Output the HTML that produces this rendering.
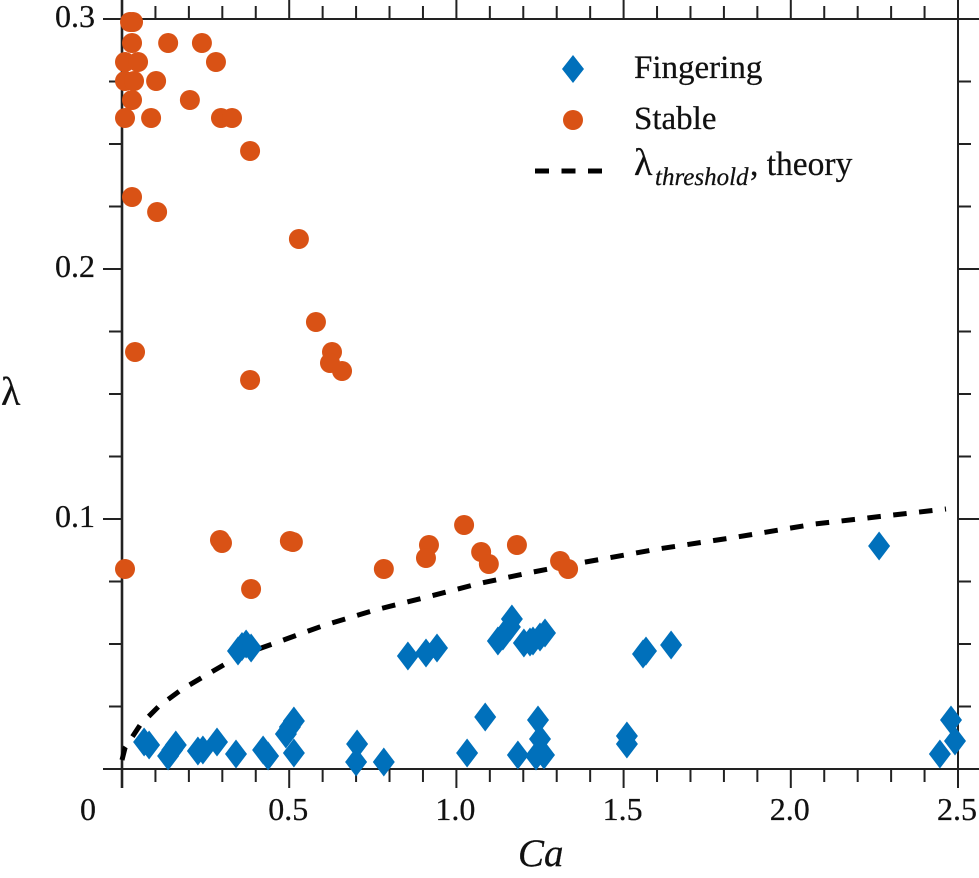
<!DOCTYPE html>
<html lang="en">
<head>
<meta charset="utf-8">
<title>Fingering and stable regimes: lambda vs Ca</title>
<style>
  html, body { margin: 0; padding: 0; background: #fff; }
  body { width: 979px; height: 878px; overflow: hidden; }
  svg { display: block; }
  text { font-family: "Liberation Serif", "DejaVu Serif", serif; fill: #111; stroke: #111; stroke-width: 0.25px; }
</style>
</head>
<body>
<svg id="chart" xmlns="http://www.w3.org/2000/svg" width="979" height="878" viewBox="0 0 979 878">
  <g id="frame"></g>
  <g id="curve-layer"></g>
  <g id="stable-layer"></g>
  <g id="fingering-layer"></g>
  <g id="labels"></g>
  <text x="518" y="866" font-size="39" font-style="italic">Ca</text>
  <text x="1" y="405" font-size="40">λ</text>
  <g>
    <polygon points="573,55 584,69 573,83 562,69" fill="#0070bb"></polygon>
    <text x="634" y="78" font-size="33">Fingering</text>
    <circle cx="573" cy="120" r="10" fill="#d95215"></circle>
    <text x="634" y="129" font-size="33">Stable</text>
    <line x1="535" y1="171" x2="602" y2="171" stroke="#000" stroke-width="5" stroke-dasharray="14 12.5"></line>
    <text x="634" y="175" font-size="38">λ<tspan x="655" y="185" font-size="25" font-style="italic">threshold</tspan><tspan x="750" y="175" font-size="33.5">, theory</tspan></text>
  </g>
</svg>
<script>
const xMajorTicks = [0, 0.5, 1.0, 1.5, 2.0, 2.5];
const xTickLabels = ["0", "0.5", "1.0", "1.5", "2.0", "2.5"];
const xMinorTicks = [0.1, 0.2, 0.3, 0.4, 0.6, 0.7, 0.8, 0.9, 1.1, 1.2, 1.3, 1.4, 1.6, 1.7, 1.8, 1.9, 2.1, 2.2, 2.3, 2.4];
const yMajorTicks = [0, 0.1, 0.2, 0.3];
const yTickLabels = ["", "0.1", "0.2", "0.3"];
const yMinorTicks = [0.025, 0.05, 0.075, 0.125, 0.15, 0.175, 0.225, 0.25, 0.275];

const stableCa = [0.024, 0.033, 0.030, 0.138, 0.239, 0.009, 0.048, 0.281, 0.009, 0.036, 0.102, 0.030, 0.203, 0.009, 0.087, 0.296, 0.329, 0.383, 0.030, 0.105, 0.039, 0.529, 0.580, 0.628, 0.622, 0.658, 0.383, 0.009, 0.293, 0.299, 0.502, 0.511, 0.386, 0.783, 0.918, 0.909, 1.023, 1.074, 1.097, 1.181, 1.310, 1.334];
const stableLambda = [0.2988, 0.2988, 0.2904, 0.2904, 0.2904, 0.2828, 0.2828, 0.2828, 0.2752, 0.2752, 0.2752, 0.2676, 0.2676, 0.2604, 0.2604, 0.2604, 0.2604, 0.2472, 0.2288, 0.2228, 0.1668, 0.2120, 0.1788, 0.1668, 0.1624, 0.1592, 0.1556, 0.0800, 0.0916, 0.0904, 0.0912, 0.0908, 0.0720, 0.0800, 0.0896, 0.0844, 0.0976, 0.0868, 0.0820, 0.0896, 0.0832, 0.0800];

const fingeringCa = [0.066, 0.081, 0.138, 0.150, 0.161, 0.227, 0.242, 0.284, 0.341, 0.422, 0.437, 0.490, 0.502, 0.514, 0.514, 0.347, 0.359, 0.371, 0.386, 0.855, 0.909, 0.942, 1.124, 1.139, 1.160, 1.166, 1.202, 1.220, 1.229, 1.250, 1.265, 0.703, 0.700, 0.783, 1.032, 1.086, 1.184, 1.244, 1.250, 1.238, 1.262, 1.510, 1.510, 1.558, 1.567, 1.642, 2.264, 2.479, 2.491, 2.446];
const fingeringLambda = [0.0108, 0.0096, 0.0052, 0.0076, 0.0096, 0.0072, 0.0076, 0.0108, 0.0060, 0.0076, 0.0052, 0.0140, 0.0168, 0.0192, 0.0064, 0.0472, 0.0490, 0.0500, 0.0484, 0.0452, 0.0464, 0.0484, 0.0512, 0.0532, 0.0568, 0.0600, 0.0504, 0.0508, 0.0512, 0.0528, 0.0544, 0.0100, 0.0028, 0.0028, 0.0064, 0.0208, 0.0056, 0.0196, 0.0120, 0.0052, 0.0056, 0.0132, 0.0100, 0.0460, 0.0472, 0.0496, 0.0892, 0.0196, 0.0112, 0.0060];

const thresholdCa = [0, 0.009, 0.054, 0.111, 0.176, 0.242, 0.314, 0.374, 0.458, 0.532, 0.607, 0.757, 0.912, 1.062, 1.214, 1.370, 1.603, 1.839, 2.072, 2.306, 2.464];
const thresholdLambda = [0.0036, 0.0084, 0.0176, 0.0252, 0.0316, 0.0368, 0.0424, 0.0464, 0.0504, 0.0540, 0.0576, 0.0636, 0.0688, 0.0740, 0.0784, 0.0824, 0.0880, 0.0928, 0.0980, 0.1016, 0.1040];

const SVG_NS = "http://www.w3.org/2000/svg";
function xScale(v) { return 122 + v * 334.4; }
function yScale(v) { return 769 - v * 2500; }

function make(tag, attrs, parent) {
  const el = document.createElementNS(SVG_NS, tag);
  for (const k in attrs) el.setAttribute(k, attrs[k]);
  parent.appendChild(el);
  return el;
}

const frame = document.getElementById("frame");
const labels = document.getElementById("labels");

function axisLine(x1, y1, x2, y2, name, width) {
  const el = make("line", { x1: x1, y1: y1, x2: x2, y2: y2, stroke: "#222", "stroke-width": width }, frame);
  
  
}

axisLine(122, 0, 122, 788, "left-axis-line", 2.6);
axisLine(958, 0, 958, 788, "right-axis-line", 2);
axisLine(103, 769, 979, 769, "bottom-axis-line", 2);
axisLine(103, 19, 979, 19, "top-axis-line", 2);

xMajorTicks.forEach(function (v) {
  axisLine(xScale(v), 769, xScale(v), 788, "x-major-tick-bottom", 2);
  axisLine(xScale(v), 19, xScale(v), 0, "x-major-tick-top", 2);
});
xMinorTicks.forEach(function (v) {
  axisLine(xScale(v), 769, xScale(v), 782, "x-minor-tick-bottom", 2);
  axisLine(xScale(v), 19, xScale(v), 6, "x-minor-tick-top", 2);
});
yMajorTicks.forEach(function (v) {
  axisLine(103, yScale(v), 122, yScale(v), "y-major-tick-left", 2);
  axisLine(958, yScale(v), 979, yScale(v), "y-major-tick-right", 2);
});
yMinorTicks.forEach(function (v) {
  axisLine(109, yScale(v), 122, yScale(v), "y-minor-tick-left", 2);
  axisLine(958, yScale(v), 971, yScale(v), "y-minor-tick-right", 2);
});

xMajorTicks.forEach(function (v, i) {
  const px = v === 0 ? 88 : xScale(v) - 1;
  const t = make("text", { x: px, y: 820, "font-size": 32, "text-anchor": "middle" }, labels);
  
  
  t.textContent = xTickLabels[i];
});
yMajorTicks.forEach(function (v, i) {
  if (!yTickLabels[i]) return;
  const t = make("text", { x: 95, y: yScale(v) + 8, "font-size": 32, "text-anchor": "end" }, labels);
  
  
  t.textContent = yTickLabels[i];
});

const curveLayer = document.getElementById("curve-layer");
const curvePoints = thresholdCa.map(function (c, i) {
  return xScale(c).toFixed(1) + "," + yScale(thresholdLambda[i]).toFixed(1);
}).join(" ");
const curve = make("polyline", { points: curvePoints, fill: "none", stroke: "#000", "stroke-width": 5, "stroke-dasharray": "13.5 12.5" }, curveLayer);



const stableLayer = document.getElementById("stable-layer");
stableCa.forEach(function (c, i) {
  const dot = make("circle", { cx: xScale(c), cy: yScale(stableLambda[i]), r: 10, fill: "#d95215" }, stableLayer);
  
  
});

const fingeringLayer = document.getElementById("fingering-layer");
fingeringCa.forEach(function (c, i) {
  const px = xScale(c);
  const py = yScale(fingeringLambda[i]);
  const pts = [px, py - 14.5, px + 11, py, px, py + 14.5, px - 11, py].map(function (n) { return n.toFixed(1); }).join(" ");
  const d = make("polygon", { points: pts, fill: "#0070bb" }, fingeringLayer);
  
  
});
</script>
</body>
</html>
